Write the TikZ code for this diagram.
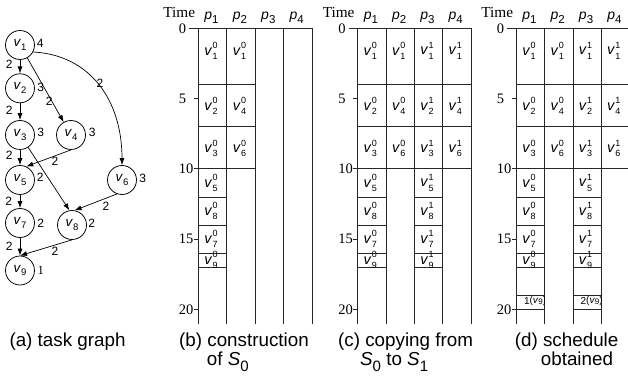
\documentclass[tikz,border=0pt]{standalone}
\usepackage{fontspec}
\setmainfont{Liberation Sans}
\newfontfamily\timesfont{Liberation Serif}
\usetikzlibrary{arrows.meta}

% task name v_k inside a graph node
\newcommand\tv[1]{\textit{v}\raisebox{-0.28em}{\fontsize{9.5}{10}\selectfont #1}}
% scheduled copy v_k^c : #1 = copy index, #2 = task index
\newcommand\bv[2]{\textit{v}\kern0.3pt\rlap{\raisebox{0.45em}{\fontsize{9}{9}\selectfont #1}}\raisebox{-0.3em}{\fontsize{9}{9}\selectfont #2}}
% processor p_k
\newcommand\pl[1]{\textit{p}\raisebox{-0.3em}{\fontsize{11.5}{12}\selectfont #1}}
% schedule S_k in captions
\newcommand\Ss[1]{\textit{S}\raisebox{-0.32em}{\fontsize{15}{15}\selectfont #1}}
% idle slot label k^(v_9)
\newcommand\idle[1]{{\fontsize{10}{10}\selectfont #1}\raisebox{1.5pt}{\fontsize{10}{10}\selectfont (\textit{v}\raisebox{-1.3pt}{\fontsize{8}{8}\selectfont 9})}}

% axis, processor columns and labels of one Gantt chart; #1 = name prefix
\newcommand\chartframe[1]{%
  \foreach \c in {0,...,4} {\draw[gline] (\c,0) -- (\c,21.05);}
  \draw[gline] ([xshift=-9pt]0,0) -- (4,0);
  \foreach \t in {5,10,15,20} {\draw[gline] ([xshift=-4.5pt]0,\t) -- (0,\t);}
  \foreach \t in {0,5,10,15,20}
    {\node[ticklbl,anchor=west] (#1-t\t) at ([xshift=-19.6pt]0,\t) {\t};}
  \node[ticklbl,font=\timesfont\fontsize{15.3}{16}\selectfont,anchor=base east]
    (#1-time) at ([xshift=-3pt]0,-0.78) {Time};
  \foreach \c in {1,...,4}
    {\node[proclbl,anchor=base] (#1-p\c) at ([xshift=-1pt]\c-0.5,-0.66) {\pl{\c}};}
}
% labels of a column of blocks; #1 prefix, #2 column, #3 copy, #4 list mid/task
\newcommand\colblocks[4]{%
  \foreach \m/\k in {#4} {\node[blklbl] (#1-#2-\k) at ([xshift=-1.5pt]#2-0.5,\m) {\bv{#3}{\k}};}
}
% horizontal slot border at time #1 from column #2 to column #3
\newcommand\hl[3]{\draw[gline] (#2,#1) -- (#3,#1);}

\begin{document}
\begin{tikzpicture}[x=1pt,y=-1pt,
  task/.style={circle,draw,line width=0.75pt,minimum size=29pt,inner sep=0pt,
    font=\fontsize{13.5}{13.5}\selectfont},
  dep/.style={-{Latex[length=7pt,width=5pt]},line width=0.7pt},
  wt/.style={inner sep=0pt,font=\fontsize{12}{12}\selectfont},
  gline/.style={line width=0.75pt,black!85},
  ticklbl/.style={inner sep=0pt,font=\timesfont\fontsize{14.5}{15}\selectfont},
  proclbl/.style={inner sep=0pt,font=\fontsize{14}{14}\selectfont},
  blklbl/.style={inner sep=0pt,font=\fontsize{14.5}{14.5}\selectfont},
  captext/.style={inner sep=0pt,anchor=base west,font=\fontsize{18.8}{22}\selectfont}]
\useasboundingbox (0,0) rectangle (628,379);

% ---------------- task graph ----------------
\node[task] (v1) at (20,45)   {\tv{1}};
\node[task] (v2) at (20,88.3) {\tv{2}};
\node[task] (v3) at (20,135)  {\tv{3}};
\node[task] (v4) at (71,135)  {\tv{4}};
\node[task] (v5) at (20,180)  {\tv{5}};
\node[task] (v6) at (122,180) {\tv{6}};
\node[task] (v7) at (20,223)  {\tv{7}};
\node[task] (v8) at (72,225)  {\tv{8}};
\node[task] (v9) at (20,270.5){\tv{9}};

% computation costs
\node[wt] (w1) at (40.3,43.3)  {4};
\node[wt] (w2) at (40.8,87.5)  {3};
\node[wt] (w3) at (40.8,132.5) {3};
\node[wt] (w4) at (92.2,132.5) {3};
\node[wt] (w5) at (40.3,177.5) {2};
\node[wt] (w6) at (142.7,178)  {3};
\node[wt] (w7) at (40.7,223)   {2};
\node[wt] (w8) at (91.7,223.3) {2};
\node[wt,font=\timesfont\fontsize{12.5}{13}\selectfont] (w9) at (40.8,270.2) {1};

% dependencies
\draw[dep] (v1) -- (v2);
\draw[dep] (v2) -- (v3);
\draw[dep] (v3) -- (v5);
\draw[dep] (v5) -- (v7);
\draw[dep] (v7) -- (v9);
\draw[dep] (v1) -- (v4);
\draw[dep] (v1.-28) .. controls (90,55) and (122,100) .. (v6.north);
\draw[dep] (v4.south) -- (v5.65);
\draw[dep] (v3) -- (v8.100);
\draw[dep] (v6.250) -- (v8.80);
\draw[dep] (v8.south) -- (v9.north);

% communication costs
\node[wt] (c12) at (9.3,64.2)   {2};
\node[wt] (c23) at (9.3,110.5)  {2};
\node[wt] (c14) at (49.3,101.3) {2};
\node[wt] (c16) at (100,83.8)   {2};
\node[wt] (c35) at (9.3,155.5)  {2};
\node[wt] (c45) at (55,161.7)   {2};
\node[wt] (c57) at (8.8,201.5)  {2};
\node[wt] (c68) at (106,206.7)  {2};
\node[wt] (c79) at (9.3,246.5)  {2};
\node[wt] (c89) at (55,251.7)   {2};

% ---------------- (b) construction of S0 ----------------
\begin{scope}[shift={(198.3,28.3)},x=28.4pt,y=-14.05pt]
  \chartframe{b}
  \foreach \t in {4,7,10} {\hl{\t}{0}{2}}
  \foreach \t in {12,14,16,17} {\hl{\t}{0}{1}}
  \colblocks{b}{1}{0}{1.6/1,5.55/2,8.55/3,11/5,13/8,15/7,16.5/9}
  \colblocks{b}{2}{0}{1.6/1,5.55/4,8.55/6}
\end{scope}

% ---------------- (c) copying from S0 to S1 ----------------
\begin{scope}[shift={(357.7,28.3)},x=28.3pt,y=-14.05pt]
  \chartframe{c}
  \foreach \t in {4,7,10} {\hl{\t}{0}{4}}
  \foreach \t in {12,14,16,17} {\hl{\t}{0}{1}\hl{\t}{2}{3}}
  \colblocks{c}{1}{0}{1.6/1,5.55/2,8.55/3,11/5,13/8,15/7,16.5/9}
  \colblocks{c}{2}{0}{1.6/1,5.55/4,8.55/6}
  \colblocks{c}{3}{1}{1.6/1,5.55/2,8.55/3,11/5,13/8,15/7,16.5/9}
  \colblocks{c}{4}{1}{1.6/1,5.55/4,8.55/6}
\end{scope}

% ---------------- (d) schedule obtained ----------------
\begin{scope}[shift={(516.3,28.3)},x=28.3pt,y=-14.05pt]
  \chartframe{d}
  \foreach \t in {4,7,10} {\hl{\t}{0}{4}}
  \foreach \t in {12,14,16,17,19,20} {\hl{\t}{0}{1}\hl{\t}{2}{3}}
  \colblocks{d}{1}{0}{1.6/1,5.55/2,8.55/3,11/5,13/8,15/7,16.5/9}
  \colblocks{d}{2}{0}{1.6/1,5.55/4,8.55/6}
  \colblocks{d}{3}{1}{1.6/1,5.55/2,8.55/3,11/5,13/8,15/7,16.5/9}
  \colblocks{d}{4}{1}{1.6/1,5.55/4,8.55/6}
  \begin{scope}
    \clip (0,19) rectangle (1,20);
    \node[inner sep=0pt,anchor=base west] (d-idle1) at ([xshift=7.5pt]0,19.66) {\idle{1}};
  \end{scope}
  \begin{scope}
    \clip (2,19) rectangle (3,20);
    \node[inner sep=0pt,anchor=base west] (d-idle2) at ([xshift=7.5pt]2,19.66) {\idle{2}};
  \end{scope}
\end{scope}

% ---------------- captions ----------------
\node[captext] (capa)  at (9.3,346.5)   {(a) task graph};
\node[captext] (capb1) at (179,346.5)   {(b) construction};
\node[captext] (capb2) at (206.7,365.5) {of \Ss{0}};
\node[captext] (capc1) at (338,346.5)   {(c) copying from};
\node[captext] (capc2) at (360,365.5)   {\Ss{0} to \Ss{1}};
\node[captext] (capd1) at (514.7,346.5) {(d) schedule};
\node[captext] (capd2) at (540.7,365.5) {obtained};
\end{tikzpicture}
\end{document}
